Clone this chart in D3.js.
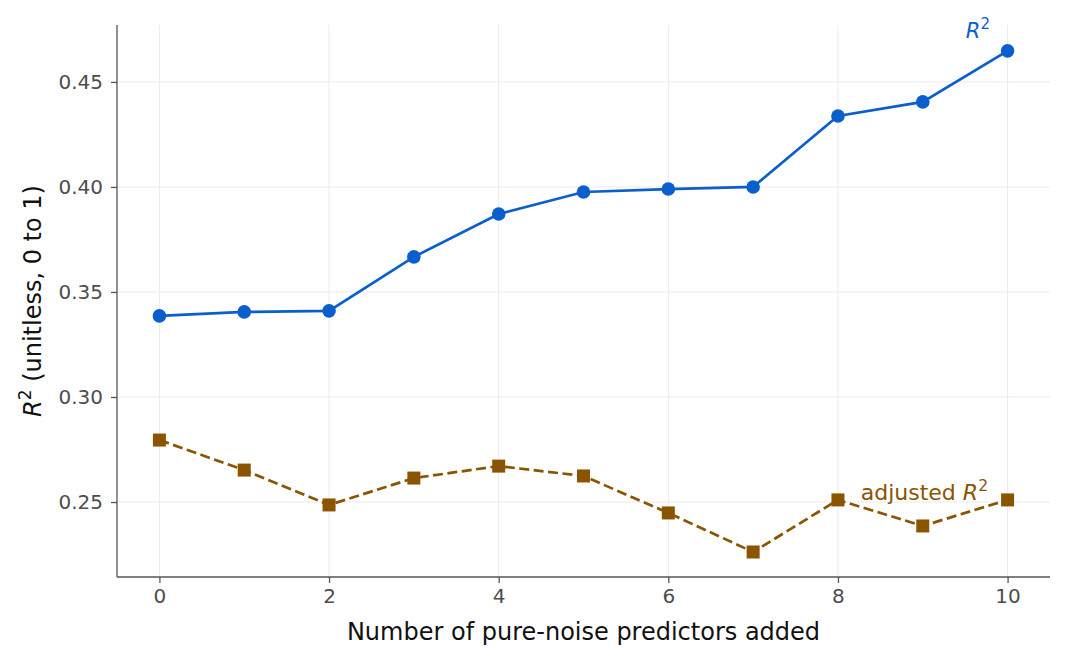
<!DOCTYPE html>
<html>
<head>
<meta charset="utf-8">
<script src="https://cdn.jsdelivr.net/npm/d3@7"></script>
<style>
  body { margin: 0; background: #fff; }
  text { font-family: "DejaVu Sans", sans-serif; }
</style>
</head>
<body>
<svg id="chart" width="1068" height="662"></svg>
<script>
var predictors = [0, 1, 2, 3, 4, 5, 6, 7, 8, 9, 10];
var r2 = [0.3386, 0.3405, 0.3410, 0.3667, 0.3871, 0.3976, 0.3990, 0.4000, 0.4338, 0.4405, 0.4648];
var adjR2 = [0.2795, 0.2652, 0.2486, 0.2614, 0.2671, 0.2624, 0.2448, 0.2262, 0.2510, 0.2386, 0.2510];
var xTicks = [0, 2, 4, 6, 8, 10];
var yTicks = [0.25, 0.30, 0.35, 0.40, 0.45];

var blue = "#0b5fcc", brown = "#8a5400";
var svg = d3.select("#chart");
var mLeft = 117, mRight = 1050, mTop = 25, mBottom = 577;

var x = d3.scaleLinear().domain([-0.5, 10.5]).range([mLeft, mRight]);
var y = d3.scaleLinear().domain([0.2143, 0.4771]).range([mBottom, mTop]);

// grid
svg.append("g").selectAll("line").data(xTicks).enter().append("line")
  .attr("x1", d => x(d)).attr("x2", d => x(d)).attr("y1", mTop).attr("y2", mBottom)
  .attr("stroke", "#ebebeb").attr("stroke-width", 1);
svg.append("g").selectAll("line").data(yTicks).enter().append("line")
  .attr("y1", d => y(d)).attr("y2", d => y(d)).attr("x1", mLeft).attr("x2", mRight)
  .attr("stroke", "#ebebeb").attr("stroke-width", 1);

// axes
var xAxis = svg.append("g").attr("transform", "translate(0," + mBottom + ")")
  .call(d3.axisBottom(x).tickValues(xTicks).tickSize(6).tickPadding(6).tickFormat(d3.format("d")));
var yAxis = svg.append("g").attr("transform", "translate(" + mLeft + ",0)")
  .call(d3.axisLeft(y).tickValues(yTicks).tickSize(6).tickPadding(8).tickFormat(d3.format(".2f")));
[xAxis, yAxis].forEach(function(a) {
  a.select(".domain").attr("stroke", "#555").attr("stroke-width", 1.3);
  a.selectAll(".tick line").attr("stroke", "#555").attr("stroke-width", 1.3);
  a.selectAll(".tick text").attr("fill", "#4d4d4d").style("font-size", "20px")
    .style("font-family", "DejaVu Sans, sans-serif");
});
// only left/bottom spines
xAxis.select(".domain").attr("d", "M" + mLeft + ",0H" + mRight);
yAxis.select(".domain").attr("d", "M0," + mTop + "V" + mBottom);

// lines
var line = d3.line().x((d, i) => x(predictors[i])).y(d => y(d));
svg.append("path").datum(r2).attr("d", line).attr("fill", "none")
  .attr("stroke", blue).attr("stroke-width", 2.7);
svg.append("path").datum(adjR2).attr("d", line).attr("fill", "none")
  .attr("stroke", brown).attr("stroke-width", 2.7).attr("stroke-dasharray", "10,4.5");

svg.append("g").selectAll("circle").data(r2).enter().append("circle")
  .attr("cx", (d, i) => x(predictors[i])).attr("cy", d => y(d)).attr("r", 6.8)
  .attr("fill", blue);
svg.append("g").selectAll("rect").data(adjR2).enter().append("rect")
  .attr("x", (d, i) => x(predictors[i]) - 6.5).attr("y", d => y(d) - 6.5)
  .attr("width", 13).attr("height", 13).attr("fill", brown);

// labels
var l1 = svg.append("text").attr("x", 990).attr("y", 38).attr("text-anchor", "end")
  .attr("fill", blue).style("font-size", "21px");
l1.append("tspan").style("font-style", "italic").text("R");
l1.append("tspan").attr("dy", -9).style("font-size", "15px").text("2");

var l2 = svg.append("text").attr("x", 988).attr("y", 500).attr("text-anchor", "end")
  .attr("fill", brown).style("font-size", "22px");
l2.append("tspan").text("adjusted ");
l2.append("tspan").style("font-style", "italic").text("R");
l2.append("tspan").attr("dy", -9).style("font-size", "15.5px").text("2");

svg.append("text").attr("x", (mLeft + mRight) / 2).attr("y", 640).attr("text-anchor", "middle")
  .style("font-size", "24px").attr("fill", "#111").text("Number of pure-noise predictors added");

var yl = svg.append("text").attr("transform", "translate(41," + 301 + ") rotate(-90)")
  .attr("text-anchor", "middle").style("font-size", "24px").attr("fill", "#111");
yl.append("tspan").style("font-style", "italic").text("R");
yl.append("tspan").attr("dy", -10).style("font-size", "17px").text("2");
yl.append("tspan").attr("dy", 10).text(" (unitless, 0 to 1)");
</script>
</body>
</html>
